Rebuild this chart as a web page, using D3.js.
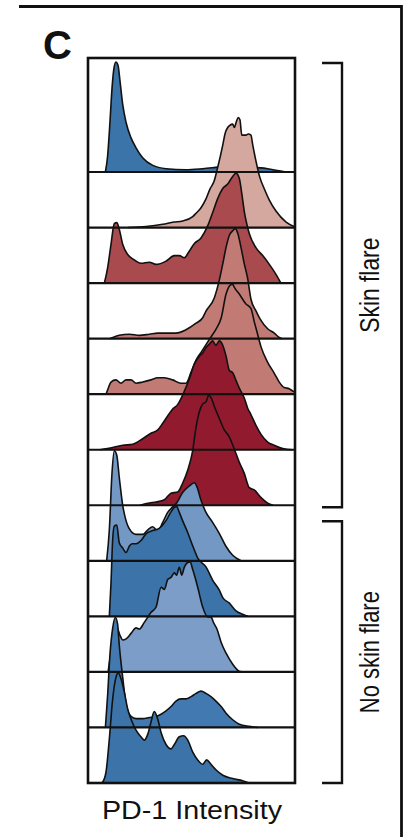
<!DOCTYPE html>
<html>
<head>
<meta charset="utf-8">
<script src="https://cdn.jsdelivr.net/npm/d3@7"></script>
<style>
  html, body { margin: 0; padding: 0; background: #fff; }
  svg { display: block; }
</style>
</head>
<body>
<svg id="chart" width="411" height="837"></svg>
<script>
// PD-1 intensity histograms, one ridge per sample.
// Each point is [intensity (0–100), relative count (sample peak = 100)].
const s01 = [[8.4,0],[9.5,15],[10.6,45],[11.6,76],[12.6,95],[13.5,100],[14.5,97],[15.5,82],[16.8,61],[18.4,45],[20.8,31],[23.2,22],[26.4,13],[31.3,6],[37.7,3],[47.3,2],[55.4,3],[60.9,4],[66,5],[72,5],[76.3,4],[81.2,4],[86.8,3],[92.4,1],[95.7,0]];
const s02 = [[19.3,0],[28.0,1],[36.1,3],[41.5,5],[45.7,6],[50.6,10],[52.2,13],[54.6,18],[57.0,26],[58.9,35],[60.9,42],[62.7,55],[65.1,75],[66.3,86],[67.5,91],[68.6,93],[69.9,94],[70.7,91],[71.8,97],[72.6,100],[73.4,98],[74.3,84],[76.3,84],[77.4,85],[78.7,84],[79.6,75],[81.2,60],[82.8,47],[85.2,35],[87.6,25],[90.8,15],[95.7,5],[99.5,1]];
const s03 = [[7.9,0],[9.5,14],[11.1,35],[12.7,54],[13.9,55],[15.1,49],[16.8,35],[19.2,26],[21.6,22],[25.6,18],[29.6,19],[32.9,17],[37.7,20],[41.7,25],[44.1,25],[46.5,23],[48.9,29],[51.4,36],[54.6,41],[57.8,52],[60.2,64],[62.7,77],[65.1,86],[67.5,90],[69.9,97],[71.5,100],[73.1,95],[74.4,80],[75.5,65],[76.8,53],[77.9,45],[81.2,32],[84.4,25],[87.6,17],[90.8,8],[93.2,0]];
const s04 = [[10.6,0],[11.9,1],[15.1,3],[20.0,4],[24.8,3],[29.6,4],[33.7,5],[38.5,5],[42.5,5],[47.3,8],[52.2,14],[55.4,19],[57.0,25],[61.0,37],[63.4,53],[65.1,68],[66.7,83],[68.3,94],[69.9,98],[71.2,100],[72.3,96],[73.9,83],[75.5,68],[77.1,55],[78.7,36],[81.2,25],[83.1,18],[86.8,9],[90.0,5],[92.4,1],[93.7,0]];
const s05 = [[8.7,0],[9.7,5],[11.1,11],[13.5,13],[15.9,10],[18.4,13],[20.8,13],[23.2,10],[26.4,11],[30.4,13],[33.7,15],[36.9,15],[40.9,13],[44.9,10],[47.3,10],[49.8,20],[52.2,31],[54.6,38],[57.0,45],[59.4,52],[61.8,59],[64.3,69],[66.7,91],[68.6,99],[69.9,100],[70.7,97],[73.1,91],[76.3,82],[78.7,78],[80.3,66],[82.0,54],[83.6,43],[86.8,29],[90.0,19],[92.4,11],[94.8,6],[97.2,5],[99.5,2]];
const s06 = [[5.8,0],[11.9,2],[16.8,4],[21.6,5],[26.4,10],[30.4,15],[33.7,18],[36.1,24],[39.3,33],[40.9,37],[43.3,41],[46.5,53],[48.9,64],[51.4,78],[53.8,85],[55.4,88],[57.0,93],[58.6,96],[60.2,99],[61.8,95],[63.4,99],[65.1,95],[66.7,85],[68.3,72],[69.9,70],[71.5,63],[73.1,56],[75.5,47],[77.1,38],[78.7,32],[81.2,22],[83.6,14],[86.8,7],[90.0,4],[94.1,1],[98.6,0]];
const s07 = [[25.1,0],[29.6,2],[32.9,3],[36.9,5],[40.1,11],[43.3,12],[45.7,20],[48.2,32],[50.6,50],[52.2,71],[53.8,85],[55.4,92],[57.0,94],[58.3,100],[59.4,98],[61.0,90],[63.4,79],[65.7,69],[68.3,62],[70.7,51],[73.1,39],[75.5,29],[77.9,16],[80.3,14],[83.6,7],[86.8,2],[89.4,0]];
const s08 = [[9.0,0],[10.3,28],[11.6,80],[12.7,100],[13.9,96],[15.1,76],[16.8,50],[17.9,40],[20.0,29],[23.2,24],[26.4,24],[28.8,28],[31.3,31],[33.7,27],[36.1,35],[38.5,44],[40.9,49],[43.0,53],[45.7,62],[48.9,68],[51.4,71],[52.7,67],[54.6,55],[57.0,44],[60.2,35],[63.4,25],[66.7,13],[69.9,5],[73.9,0]];
const s09 = [[10.3,0],[11.1,30],[11.9,69],[12.7,82],[13.9,83],[15.1,67],[16.8,62],[18.4,58],[20.0,64],[21.3,66],[23.2,66],[25.6,69],[28.0,75],[31.3,78],[34.4,80],[37.7,87],[40.1,95],[41.7,99],[42.8,100],[44.0,95],[45.7,87],[48.2,76],[50.6,64],[53.0,53],[57.0,45],[60.2,33],[63.4,24],[65.1,17],[68.3,12],[71.5,5],[74.7,2],[77.3,0]];
const s10 = [[9.7,0],[11.1,18],[12.6,36],[14.0,40],[15.5,33],[16.8,29],[18.4,30],[20.8,35],[23.2,40],[24.8,39],[27.2,45],[30.4,54],[32.9,59],[35.3,77],[36.9,75],[38.5,84],[40.1,86],[41.7,90],[42.8,88],[44.1,95],[45.3,88],[46.5,95],[47.8,99],[49.3,100],[50.6,93],[53.0,77],[55.4,59],[57.8,50],[59.4,50],[60.6,45],[62.3,39],[64.3,27],[66.7,17],[69.9,7],[72.7,1],[74.4,0]];
const s11 = [[8.4,0],[9.5,30],[10.6,66],[11.9,90],[13.2,100],[14.3,94],[15.1,75],[16.8,45],[18.4,21],[20.8,10],[23.2,8],[26.4,8],[29.6,9],[32.9,10],[35.3,12],[37.7,15],[40.1,19],[42.5,24],[44.9,26],[47.3,26],[49.8,28],[52.2,31],[54.6,33],[57.0,31],[59.4,28],[61.8,24],[64.3,19],[66.7,13],[69.9,7],[73.1,3],[77.9,1],[82.1,0]];
const s12 = [[6.3,0],[7.1,1],[8.7,10],[10.3,40],[11.9,76],[13.5,96],[14.6,100],[15.9,95],[17.5,83],[19.2,67],[20.8,58],[23.2,48],[25.6,42],[27.2,39],[28.8,44],[30.4,55],[32.0,65],[33.7,58],[35.3,46],[37.7,35],[40.1,31],[41.7,35],[44.1,42],[46.2,43],[48.2,39],[50.6,28],[53.0,21],[55.4,17],[57.3,21],[59.4,17],[61.8,12],[65.1,7],[69.9,4],[74.7,2],[77.9,0]];

const samples = [s01, s02, s03, s04, s05, s06, s07, s08, s09, s10, s11, s12];
const sampleColors = ["#3b74a9", "#d4a79f", "#a94a4f", "#c17b74", "#c17b74", "#911a2e",
                      "#911a2e", "#7398c3", "#3c74aa", "#7b9dc7", "#4279b0", "#3c74aa"];

// Patient groups: index of first and last ridge in each group
const groupNames = ["Skin flare", "No skin flare"];
const groupFirst = [0, 7];
const groupLast = [6, 11];

const axisTitle = "PD-1 Intensity";
const panelLetter = "C";

const svg = d3.select("#chart");

const plotLeft = 88, plotRight = 295, plotTop = 58;
const x = d3.scaleLinear().domain([0, 100]).range([plotLeft, plotRight]);
const ridgeH = d3.scaleLinear().domain([0, 100]).range([0, 110]);
const baseline = d3.scaleLinear().domain([0, samples.length - 1]).range([172, 783]);
const plotBottom = baseline(samples.length - 1);

// outer panel border (top and right)
svg.append("path")
  .attr("d", `M19,6.5H401.5V837`)
  .attr("fill", "none").attr("stroke", "#111").attr("stroke-width", 2.8);

svg.append("text")
  .attr("x", 43).attr("y", 59)
  .attr("font-family", "Liberation Sans, Arial, sans-serif")
  .attr("font-weight", "bold").attr("font-size", 40)
  .attr("fill", "#111")
  .text(panelLetter);

const ridges = svg.append("g");

samples.forEach((pts, i) => {
  const b = baseline(i);
  const area = d3.area()
    .x(p => x(p[0]))
    .y0(b)
    .y1(p => b - ridgeH(p[1]))
    .curve(d3.curveMonotoneX);
  const line = d3.line()
    .x(p => x(p[0]))
    .y(p => b - ridgeH(p[1]))
    .curve(d3.curveMonotoneX);
  ridges.append("path")
    .attr("d", area(pts))
    .attr("fill", sampleColors[i]);
  ridges.append("path")
    .attr("d", line(pts))
    .attr("fill", "none")
    .attr("stroke", "#111")
    .attr("stroke-width", 1.6)
    .attr("stroke-linejoin", "round");
});

// ridge baselines
svg.append("g")
  .selectAll("line")
  .data(d3.range(samples.length - 1))
  .join("line")
  .attr("x1", plotLeft).attr("x2", plotRight)
  .attr("y1", d => baseline(d)).attr("y2", d => baseline(d))
  .attr("stroke", "#111").attr("stroke-width", 2.2);

// plot frame
svg.append("rect")
  .attr("x", plotLeft).attr("y", plotTop)
  .attr("width", plotRight - plotLeft).attr("height", plotBottom - plotTop)
  .attr("fill", "none").attr("stroke", "#111").attr("stroke-width", 2.6);

// x-axis title
svg.append("text")
  .attr("x", (plotLeft + plotRight) / 2 + 0.5).attr("y", 819)
  .attr("text-anchor", "middle")
  .attr("font-family", "Liberation Sans, Arial, sans-serif")
  .attr("font-size", 25)
  .attr("textLength", 180).attr("lengthAdjust", "spacingAndGlyphs")
  .attr("fill", "#111")
  .text(axisTitle);

// group brackets and labels
const bracketX0 = 322, bracketX1 = 342;
groupNames.forEach((name, gi) => {
  const top = groupFirst[gi] === 0 ? plotTop + 5 : baseline(groupFirst[gi] - 1) + 16;
  const bottom = groupLast[gi] === samples.length - 1 ? plotBottom : baseline(groupLast[gi]) + 2;
  svg.append("path")
    .attr("d", `M${bracketX0},${top}H${bracketX1}V${bottom}H${bracketX0}`)
    .attr("fill", "none").attr("stroke", "#111").attr("stroke-width", 2.4);
  const mid = (top + bottom) / 2;
  svg.append("text")
    .attr("transform", `translate(379,${mid}) rotate(-90)`)
    .attr("text-anchor", "middle")
    .attr("font-family", "Liberation Sans, Arial, sans-serif")
    .attr("font-size", 27)
    .attr("textLength", name.length > 10 ? 122 : 95)
    .attr("lengthAdjust", "spacingAndGlyphs")
    .attr("fill", "#111")
    .text(name);
});
</script>
</body>
</html>
